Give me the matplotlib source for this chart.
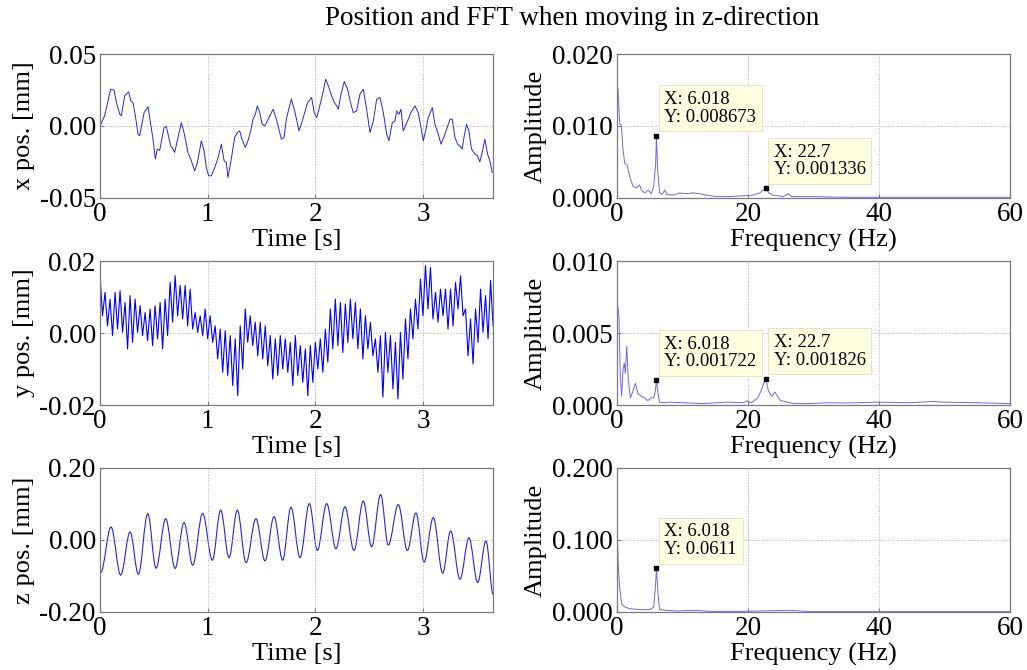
import numpy as np
import matplotlib
matplotlib.use("Agg")
import matplotlib.pyplot as plt
from matplotlib.path import Path
from matplotlib.patches import PathPatch

plt.rcParams['font.family'] = ['Liberation Serif', 'DejaVu Serif']

# ---- x position ----
x_time = [0.000, 0.043, 0.099, 0.130, 0.152, 0.183, 0.198, 0.229, 0.266, 0.285,
          0.306, 0.328, 0.353, 0.368, 0.409, 0.446, 0.471, 0.492, 0.514, 0.532,
          0.554, 0.594, 0.616, 0.656, 0.678, 0.693, 0.724, 0.755, 0.780, 0.817,
          0.842, 0.879, 0.904, 0.941, 0.966, 0.987, 1.009, 1.034, 1.071, 1.096,
          1.127, 1.152, 1.173, 1.188, 1.219, 1.250, 1.275, 1.297, 1.318, 1.349,
          1.374, 1.399, 1.421, 1.443, 1.461, 1.483, 1.505, 1.529, 1.545, 1.576,
          1.607, 1.638, 1.669, 1.684, 1.709, 1.730, 1.752, 1.777, 1.811, 1.848,
          1.873, 1.928, 1.965, 1.989, 2.012, 2.033, 2.074, 2.095, 2.120, 2.151,
          2.176, 2.198, 2.213, 2.234, 2.268, 2.299, 2.330, 2.352, 2.383, 2.414,
          2.445, 2.476, 2.507, 2.538, 2.569, 2.600, 2.631, 2.662, 2.683, 2.714,
          2.739, 2.754, 2.776, 2.795, 2.816, 2.863, 2.887, 2.925, 2.955, 2.981,
          3.002, 3.027, 3.048, 3.086, 3.110, 3.141, 3.166, 3.197, 3.250, 3.271,
          3.296, 3.321, 3.342, 3.364, 3.382, 3.404, 3.425, 3.450, 3.481, 3.506,
          3.527, 3.549, 3.574, 3.599, 3.620, 3.642]
x_pos = [0.0000, 0.0071, 0.0256, 0.0250, 0.0163, 0.0082, 0.0071, 0.0210, 0.0237, 0.0175,
         0.0163, 0.0071, -0.0057, -0.0068, 0.0093, 0.0133, 0.0012, -0.0092, -0.0229, -0.0160,
         -0.0170, -0.0011, -0.0004, -0.0138, -0.0160, -0.0184, -0.0080, 0.0023, -0.0046, -0.0184,
         -0.0230, -0.0311, -0.0254, -0.0103, -0.0172, -0.0288, -0.0346, -0.0346, -0.0277, -0.0220,
         -0.0126, -0.0242, -0.0254, -0.0358, -0.0230, -0.0080, -0.0046, -0.0034, -0.0092, -0.0149,
         -0.0103, -0.0034, 0.0047, 0.0082, 0.0140, 0.0093, 0.0012, 0.0000, 0.0023, 0.0070,
         0.0116, 0.0047, -0.0046, -0.0092, -0.0080, 0.0047, 0.0116, 0.0186, 0.0093, -0.0034,
         0.0023, 0.0163, 0.0198, 0.0093, 0.0058, 0.0116, 0.0244, 0.0325, 0.0279, 0.0209,
         0.0163, 0.0140, 0.0116, 0.0209, 0.0309, 0.0256, 0.0151, 0.0093, 0.0105, 0.0221,
         0.0256, 0.0116, -0.0046, 0.0035, 0.0186, 0.0198, 0.0093, -0.0057, -0.0103, 0.0023,
         0.0035, 0.0105, 0.0082, 0.0116, -0.0034, 0.0047, 0.0093, 0.0140, 0.0093, -0.0011,
         -0.0103, -0.0023, 0.0058, 0.0128, 0.0012, -0.0057, -0.0126, -0.0069, 0.0047, 0.0047,
         -0.0080, -0.0126, -0.0138, -0.0160, -0.0069, 0.0012, -0.0034, -0.0160, -0.0195, -0.0207,
         -0.0249, -0.0184, -0.0092, -0.0195, -0.0242, -0.0323]

# ---- y position: peaks and dips of each vibration cycle ----
y_upper = [0.0159, 0.0113, 0.0094, 0.0113, 0.0118, 0.0085, 0.0104, 0.0094, 0.0076, 0.0057,
           0.0067, 0.0076, 0.0085, 0.0094, 0.0141, 0.0159, 0.0132, 0.0132, 0.0122, 0.0057,
           0.0048, 0.0067, 0.0048, 0.0020, 0.0011, 0.0006, -0.0007, -0.0016, 0.0020, 0.0067,
           0.0048, 0.0030, 0.0030, 0.0020, -0.0007, -0.0016, -0.0007, -0.0016, -0.0026, -0.0007,
           -0.0035, -0.0044, -0.0035, -0.0026, -0.0016, 0.0011, 0.0067, 0.0094, 0.0085, 0.0081,
           0.0094, 0.0085, 0.0067, 0.0048, 0.0030, -0.0016, -0.0007, 0.0002, -0.0007, -0.0026,
           0.0002, 0.0039, 0.0067, 0.0094, 0.0150, 0.0187, 0.0182, 0.0113, 0.0122, 0.0122,
           0.0122, 0.0141, 0.0159, 0.0067, 0.0039, 0.0067, 0.0122, 0.0104, 0.0146]
y_lower = [0.0048, 0.0020, -0.0007, 0.0011, 0.0002, -0.0044, -0.0026, 0.0002, -0.0007, -0.0021,
           -0.0035, -0.0016, -0.0044, -0.0007, 0.0030, 0.0048, 0.0039, 0.0020, 0.0011, 0.0002,
           -0.0007, -0.0016, -0.0026, -0.0072, -0.0109, -0.0118, -0.0146, -0.0174, -0.0100, -0.0026,
           -0.0035, -0.0063, -0.0072, -0.0091, -0.0128, -0.0118, -0.0100, -0.0109, -0.0146, -0.0118,
           -0.0137, -0.0174, -0.0137, -0.0100, -0.0109, -0.0081, -0.0044, -0.0035, -0.0054, -0.0026,
           -0.0016, -0.0044, -0.0072, -0.0044, -0.0063, -0.0109, -0.0178, -0.0109, -0.0155, -0.0183,
           -0.0128, -0.0072, -0.0016, 0.0011, 0.0048, 0.0067, 0.0039, 0.0030, 0.0048, 0.0011,
           0.0020, 0.0067, 0.0048, -0.0063, -0.0086, -0.0026, 0.0002, -0.0016, 0.0020]

# ---- z position: peaks and troughs ----
z_time = [0.006, 0.102, 0.192, 0.279, 0.356, 0.443, 0.520, 0.610, 0.697, 0.780,
          0.861, 0.953, 1.043, 1.120, 1.198, 1.275, 1.356, 1.448, 1.532, 1.616,
          1.696, 1.773, 1.857, 1.944, 2.018, 2.105, 2.191, 2.275, 2.358, 2.445,
          2.522, 2.606, 2.677, 2.770, 2.854, 2.934, 3.009, 3.095, 3.182, 3.256,
          3.343, 3.426, 3.507, 3.584, 3.652]
z_pos = [-0.090, 0.036, -0.0975, 0.022, -0.095, 0.073, -0.078, 0.059, -0.079, 0.048,
         -0.070, 0.074, -0.056, 0.083, -0.049, 0.083, -0.063, 0.059, -0.058, 0.065,
         -0.056, 0.091, -0.049, 0.101, -0.029, 0.101, -0.024, 0.092, -0.029, 0.108,
         -0.019, 0.126, -0.014, 0.098, -0.029, 0.075, -0.061, 0.062, -0.092, 0.025,
         -0.109, 0.006, -0.118, -0.003, -0.152]

# ---- FFT amplitudes ----
fx_freq = [0.0, 0.15, 0.41, 0.66, 0.92, 1.17, 1.53, 1.94, 2.44, 2.95, 3.46, 3.72, 4.23, 4.74,
           5.25, 5.6, 5.9, 6.018, 6.2, 6.5, 6.9, 7.3, 7.6, 8.6, 9.6, 10.6, 11.6, 12.6, 13.6,
           15.2, 17.2, 19.3, 20.8, 21.8, 22.3, 22.7, 23.2, 23.8, 25.4, 26.1, 26.6, 29.4,
           34.5, 39.6, 49.8, 60.0]
fx_amp = [0.0140, 0.0152, 0.0103, 0.0101, 0.0067, 0.0048, 0.0046, 0.0030, 0.0016, 0.0014,
          0.0018, 0.0011, 0.0007, 0.0011, 0.0006, 0.0016, 0.0048, 0.008673, 0.0039, 0.0007,
          0.0005, 0.0011, 0.0005, 0.0004, 0.0007, 0.0006, 0.0007, 0.0006, 0.0004, 0.0002,
          0.0002, 0.0003, 0.0004, 0.0007, 0.0011, 0.001336, 0.0007, 0.0004, 0.0002, 0.0006,
          0.0002, 0.0002, 0.0001, 0.0001, 0.0001, 0.0001]

fy_freq = [0.0, 0.3, 0.5, 0.7, 0.9, 1.1, 1.27, 1.48, 1.73, 2.04, 2.3, 2.8, 3.2, 3.7, 4.2,
           4.7, 5.25, 5.6, 5.86, 6.018, 6.26, 6.5, 7.0, 8.05, 10.1, 13.1, 16.7, 19.3, 19.8,
           20.5, 21.5, 22.0, 22.56, 22.7, 23.1, 23.6, 24.1, 24.5, 25.0, 25.6, 26.9, 29.4,
           32.0, 34.5, 37.1, 39.6, 44.7, 48.3, 49.8, 54.9, 60.0]
fy_amp = [0.0073, 0.0061, 0.0020, 0.0006, 0.0024, 0.0029, 0.0022, 0.0041, 0.0017, 0.0005,
          0.0008, 0.0015, 0.0008, 0.0006, 0.0005, 0.0003, 0.0005, 0.0005, 0.0010, 0.001722,
          0.0008, 0.0002, 0.00016, 0.0002, 0.00016, 0.0001, 0.0002, 0.00016, 0.0003, 0.00016,
          0.0005, 0.0010, 0.0017, 0.001826, 0.0010, 0.0006, 0.0009, 0.0006, 0.0003, 0.00025,
          0.0001, 0.0001, 0.00016, 0.00014, 0.00016, 0.0002, 0.00016, 0.00025, 0.0002, 0.00016,
          0.0001]

fz_freq = [0.0, 0.2, 0.4, 0.7, 1.17, 1.94, 2.95, 3.97, 5.0, 5.6, 5.86, 6.018, 6.26, 6.5,
           7.5, 9.1, 11.6, 14.2, 19.3, 26.4, 29.4, 39.6, 60.0]
fz_amp = [0.1195, 0.062, 0.0345, 0.0115, 0.0069, 0.0046, 0.0037, 0.0032, 0.0032, 0.0069,
          0.0345, 0.0611, 0.0253, 0.0032, 0.0023, 0.0014, 0.0023, 0.0009, 0.0009, 0.0023,
          0.0005, 0.0005, 0.0005]

# data tips: (axes index, x, y, text)
tips = [(0, 6.018, 0.008673, "X: 6.018\nY: 0.008673"),
        (0, 22.7, 0.001336, "X: 22.7\nY: 0.001336"),
        (1, 6.018, 0.001722, "X: 6.018\nY: 0.001722"),
        (1, 22.7, 0.001826, "X: 22.7\nY: 0.001826"),
        (2, 6.018, 0.0611, "X: 6.018\nY: 0.0611")]

# build y signal from cycle peaks/dips
y_pos = np.empty(2 * len(y_upper))
y_pos[0::2] = y_upper
y_pos[1::2] = y_lower
y_time = np.linspace(0, 3.65, len(y_pos))


def smooth_path(t, v):
    # cubic segments with flat tangents at each extreme (sine-like look)
    verts = [(t[0], v[0])]
    codes = [Path.MOVETO]
    for i in range(len(t) - 1):
        dt = t[i + 1] - t[i]
        verts += [(t[i] + 0.36 * dt, v[i]), (t[i + 1] - 0.36 * dt, v[i + 1]), (t[i + 1], v[i + 1])]
        codes += [Path.CURVE4] * 3
    return Path(verts, codes)


fig = plt.figure(figsize=(10.27, 6.70), dpi=100)

W = 0.3827
H = 0.2149
lefts = [0.0974, 0.6008]
bottoms = [0.7045, 0.3955, 0.0866]

line_col = '#2626e0'
tick_fs = 19.5
lab_fs = 19


def style(ax):
    for s in ax.spines.values():
        s.set_color('#7a7a7a')
        s.set_linewidth(0.9)
    ax.grid(True, linestyle=':', color='#b0b0b0', linewidth=0.7)
    ax.tick_params(direction='in', length=3, color='#7a7a7a', labelsize=tick_fs, pad=3)


left_axes = []
right_axes = []
for b in bottoms:
    left_axes.append(fig.add_axes([lefts[0], b, W, H]))
    right_axes.append(fig.add_axes([lefts[1], b, W, H]))

# time plots
time_series = [(x_time, x_pos, 0.05, 'x pos. [mm]'),
               (y_time, y_pos, 0.02, 'y pos. [mm]'),
               (z_time, z_pos, 0.20, 'z pos. [mm]')]
for k, (ax, (t, v, lim, lab)) in enumerate(zip(left_axes, time_series)):
    if k == 0:
        ax.plot(t, v, color=line_col, linewidth=0.7)
    elif k == 1:
        ax.plot(t, v, color='#0000ff', linewidth=0.8)
    else:
        ax.add_patch(PathPatch(smooth_path(t, v), facecolor='none', edgecolor=line_col, linewidth=0.8))
    ax.set_xlim(0, 3.65)
    ax.set_ylim(-lim, lim)
    ax.set_xticks([0, 1, 2, 3])
    ax.set_yticks([-lim, 0, lim])
    ax.set_yticklabels(['%.2f' % -lim, '0.00', '%.2f' % lim])
    ax.set_xlabel('Time [s]', fontsize=lab_fs, labelpad=1)
    ax.set_ylabel(lab, fontsize=lab_fs)
    ax.yaxis.set_label_coords(-0.165, 0.5)
    style(ax)

# FFT plots
fft_series = [(fx_freq, fx_amp, 0.02), (fy_freq, fy_amp, 0.01), (fz_freq, fz_amp, 0.2)]
for ax, (f, a, top) in zip(right_axes, fft_series):
    ax.plot(f, a, color='#6a6ae8', linewidth=0.7)
    ax.set_xlim(0, 60)
    ax.set_ylim(0, top)
    ax.set_xticks([0, 20, 40, 60])
    ax.set_yticks([0, top / 2, top])
    ax.set_yticklabels(['%.3f' % 0, '%.3f' % (top / 2), '%.3f' % top])
    ax.set_xlabel('Frequency (Hz)', fontsize=lab_fs, labelpad=1)
    ax.set_ylabel('Amplitude', fontsize=lab_fs)
    ax.yaxis.set_label_coords(-0.18, 0.5)
    style(ax)

for i, fx, fy, txt in tips:
    ax = right_axes[i]
    ax.plot([fx], [fy], 's', color='black', markersize=3.5, zorder=5)
    ax.annotate(txt, xy=(fx, fy), xytext=(8, 10), textcoords='offset pixels',
                ha='left', va='bottom', fontsize=13.5, linespacing=1.05, zorder=6,
                bbox=dict(boxstyle='square,pad=0.3', facecolor='#ffffe1',
                          edgecolor='#e4e4cc', linewidth=0.8))

fig.text(0.557, 0.972, 'Position and FFT when moving in z-direction',
         ha='center', va='center', fontsize=19.5)

fig.savefig('out.png', dpi=100)
